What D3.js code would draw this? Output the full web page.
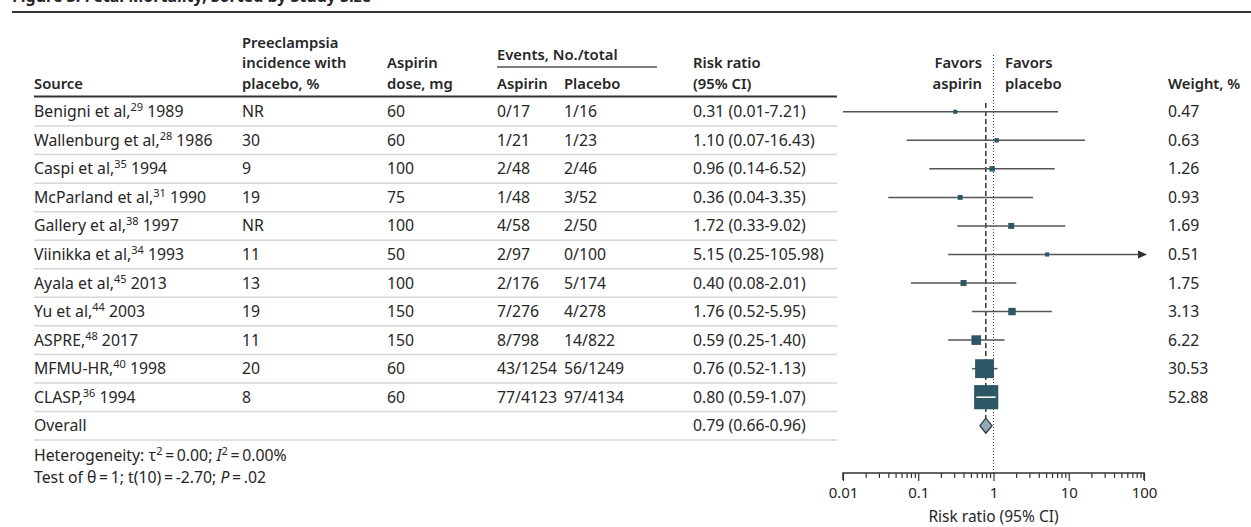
<!DOCTYPE html>
<html>
<head>
<meta charset="utf-8">
<script src="https://cdn.jsdelivr.net/npm/d3@7"></script>
<style>
  html, body { margin: 0; padding: 0; background: #fff; }
  svg { display: block; font-family: "Noto Sans", sans-serif; }
</style>
</head>
<body>
<svg id="chart" width="1251" height="527"></svg>
<script>
// Study table
const studyNames = ["Benigni et al,", "Wallenburg et al,", "Caspi et al,", "McParland et al,", "Gallery et al,",
  "Viinikka et al,", "Ayala et al,", "Yu et al,", "ASPRE,", "MFMU-HR,", "CLASP,"];
const studyRefs = ["29", "28", "35", "31", "38", "34", "45", "44", "48", "40", "36"];
const studyYears = ["1989", "1986", "1994", "1990", "1997", "1993", "2013", "2003", "2017", "1998", "1994"];
const incidence = ["NR", "30", "9", "19", "NR", "11", "13", "19", "11", "20", "8"];
const doseMg = [60, 60, 100, 75, 100, 50, 100, 150, 150, 60, 60];
const aspirinEvents = [0, 1, 2, 1, 4, 2, 2, 7, 8, 43, 77];
const aspirinTotal = [17, 21, 48, 48, 58, 97, 176, 276, 798, 1254, 4123];
const placeboEvents = [1, 1, 2, 3, 2, 0, 5, 4, 14, 56, 97];
const placeboTotal = [16, 23, 46, 52, 50, 100, 174, 278, 822, 1249, 4134];
const riskRatio = [0.31, 1.10, 0.96, 0.36, 1.72, 5.15, 0.40, 1.76, 0.59, 0.76, 0.80];
const ciLow = [0.01, 0.07, 0.14, 0.04, 0.33, 0.25, 0.08, 0.52, 0.25, 0.52, 0.59];
const ciHigh = [7.21, 16.43, 6.52, 3.35, 9.02, 105.98, 2.01, 5.95, 1.40, 1.13, 1.07];
const weightPct = [0.47, 0.63, 1.26, 0.93, 1.69, 0.51, 1.75, 3.13, 6.22, 30.53, 52.88];

// Pooled estimate
const overallRR = [0.79];
const overallLow = [0.66];
const overallHigh = [0.96];

// Axis ticks
const tickValues = [0.01, 0.1, 1, 10, 100];
const tickLabels = ["0.01", "0.1", "1", "10", "100"];

const svg = d3.select("#chart");
const ink = "#262626";
const boxColor = "#2e5766";
const fontSize = 15.8;
const headSize = 14.8;
const supSize = 11;

const nRows = studyNames.length + 1;
const y = d3.scaleBand().domain(d3.range(nRows)).range([97.5, 440]).padding(0);
const yc = i => y(i) + y.bandwidth() / 2;
const x = d3.scaleLog().domain([0.01, 100]).range([843, 1144]);
const boxSide = d3.scaleSqrt().domain([0, 100]).range([0, 30.5]);

const fmt2 = d3.format(".2f");
const rrText = (r, l, h) => `${fmt2(r)} (${fmt2(l)}-${fmt2(h)})`;

// Title strip and rules
svg.append("text").attr("x", 12).attr("y", 2).attr("font-size", 16).attr("font-weight", 700)
  .attr("fill", ink).text("Figure 3. Fetal Mortality, Sorted by Study Size");
svg.append("line").attr("x1", 12).attr("x2", 1251).attr("y1", 12).attr("y2", 12)
  .attr("stroke", "#333").attr("stroke-width", 2);

// Column headers
const col = { src: 34, inc: 242, dose: 387, asp: 497, plc: 564, rr: 693, wt: 1168 };
const header = svg.append("g").attr("font-size", headSize).attr("font-weight", 600).attr("fill", ink);
function headerLines(xp, lines, lastBaseline, anchor) {
  lines.forEach((t, k) => {
    header.append("text").attr("x", xp).attr("y", lastBaseline - (lines.length - 1 - k) * 20.7)
      .attr("text-anchor", anchor || "start").text(t);
  });
}
headerLines(col.src, ["Source"], 89);
headerLines(col.inc, ["Preeclampsia", "incidence with", "placebo, %"], 89);
headerLines(col.dose, ["Aspirin", "dose, mg"], 89);
headerLines(col.asp, ["Events, No./total"], 60);
headerLines(col.asp, ["Aspirin"], 89);
headerLines(col.plc, ["Placebo"], 89);
headerLines(col.rr, ["Risk ratio", "(95% CI)"], 89);
headerLines(col.wt, ["Weight, %"], 89);
headerLines(982, ["Favors", "aspirin"], 89, "end");
headerLines(1005, ["Favors", "placebo"], 89);
svg.append("line").attr("x1", col.asp).attr("x2", 657).attr("y1", 67).attr("y2", 67)
  .attr("stroke", "#555").attr("stroke-width", 1.5);
svg.append("line").attr("x1", 34).attr("x2", 837).attr("y1", 96.5).attr("y2", 96.5)
  .attr("stroke", "#333").attr("stroke-width", 2);

// Row separators
svg.append("g").selectAll("line").data(d3.range(nRows)).join("line")
  .attr("x1", 34).attr("x2", 837)
  .attr("y1", i => y(i) + y.bandwidth()).attr("y2", i => y(i) + y.bandwidth())
  .attr("stroke", "#d6d6d6").attr("stroke-width", 1.5);

// Table body
const body = svg.append("g").attr("font-size", fontSize).attr("fill", ink);
const rows = body.selectAll("g.row").data(d3.range(studyNames.length)).join("g")
  .attr("class", "row").attr("transform", i => `translate(0,${yc(i) + 5.5})`);
const src = rows.append("text").attr("x", col.src);
src.append("tspan").text(i => studyNames[i]);
src.append("tspan").attr("font-size", supSize).attr("dy", -6).text(i => studyRefs[i]);
src.append("tspan").attr("dy", 6).text(i => "\u00a0" + studyYears[i]);
rows.append("text").attr("x", col.inc).text(i => incidence[i]);
rows.append("text").attr("x", col.dose).text(i => doseMg[i]);
rows.append("text").attr("x", col.asp).text(i => `${aspirinEvents[i]}/${aspirinTotal[i]}`);
rows.append("text").attr("x", col.plc).text(i => `${placeboEvents[i]}/${placeboTotal[i]}`);
rows.append("text").attr("x", col.rr).text(i => rrText(riskRatio[i], ciLow[i], ciHigh[i]));
rows.append("text").attr("x", col.wt).text(i => fmt2(weightPct[i]));

const ov = studyNames.length;
body.append("text").attr("x", col.src).attr("y", yc(ov) + 5.5).text("Overall");
body.append("text").attr("x", col.rr).attr("y", yc(ov) + 5.5)
  .text(rrText(overallRR[0], overallLow[0], overallHigh[0]));

// Footnotes
const foot = svg.append("g").attr("font-size", fontSize).attr("fill", ink);
const het = foot.append("text").attr("x", col.src).attr("y", 461);
het.append("tspan").text("Heterogeneity: \u03c4");
het.append("tspan").attr("font-size", supSize).attr("dy", -6).text("2");
het.append("tspan").attr("dy", 6).text("\u2009=\u20090.00; ");
het.append("tspan").attr("font-style", "italic").text("I");
het.append("tspan").attr("font-size", supSize).attr("dy", -6).text("2");
het.append("tspan").attr("dy", 6).text("\u2009=\u20090.00%");
const tst = foot.append("text").attr("x", col.src).attr("y", 483);
tst.append("tspan").text("Test of \u03b8\u2009=\u20091; t(10)\u2009=\u2009-2.70; ");
tst.append("tspan").attr("font-style", "italic").text("P");
tst.append("tspan").text("\u2009=\u2009.02");

// Reference lines: no effect (dotted) and pooled estimate (dashed)
svg.append("line").attr("x1", x(1)).attr("x2", x(1)).attr("y1", 55).attr("y2", 473)
  .attr("stroke", "#444").attr("stroke-width", 1).attr("stroke-dasharray", "1,2");
svg.append("line").attr("x1", x(overallRR[0])).attr("x2", x(overallRR[0]))
  .attr("y1", 103).attr("y2", yc(ov) - 8)
  .attr("stroke", "#333").attr("stroke-width", 1.5).attr("stroke-dasharray", "5,3");

// Confidence intervals and weighted boxes
const [xMin, xMax] = x.domain();
const plot = svg.append("g");
const marks = plot.selectAll("g.mark").data(d3.range(studyNames.length)).join("g").attr("class", "mark");
marks.append("line")
  .attr("x1", i => x(Math.max(ciLow[i], xMin)))
  .attr("x2", i => ciHigh[i] > xMax ? x(xMax) - 6 : x(ciHigh[i]))
  .attr("y1", i => yc(i)).attr("y2", i => yc(i))
  .attr("stroke", "#555").attr("stroke-width", 1.5);
marks.filter(i => ciHigh[i] > xMax).append("path")
  .attr("d", i => {
    const tip = x(xMax) + 3, yy = yc(i);
    return `M${tip},${yy}L${tip - 9},${yy - 4}L${tip - 9},${yy + 4}Z`;
  })
  .attr("fill", "#333");
const side = i => 2 + boxSide(weightPct[i]);
marks.append("rect")
  .attr("x", i => x(riskRatio[i]) - side(i) / 2)
  .attr("y", i => yc(i) - side(i) / 2)
  .attr("width", side).attr("height", side)
  .attr("fill", boxColor);
// Interval drawn in white where it lies entirely inside its box
marks.filter(i => x(ciLow[i]) > x(riskRatio[i]) - side(i) / 2 && x(ciHigh[i]) < x(riskRatio[i]) + side(i) / 2)
  .append("line")
  .attr("x1", i => x(ciLow[i])).attr("x2", i => x(ciHigh[i]))
  .attr("y1", i => yc(i)).attr("y2", i => yc(i))
  .attr("stroke", "#fff").attr("stroke-width", 1.5);

// Pooled diamond
const dy = yc(ov);
plot.append("path")
  .attr("d", `M${x(overallLow[0])},${dy}L${x(overallRR[0])},${dy - 7.5}L${x(overallHigh[0])},${dy}L${x(overallRR[0])},${dy + 7.5}Z`)
  .attr("fill", "#8eabb6").attr("stroke", "#333").attr("stroke-width", 1.2);

// Log axis
const allTicks = x.ticks();
const axis = d3.axisBottom(x).tickValues(allTicks).tickSize(5)
  .tickFormat(v => { const k = tickValues.findIndex(t => Math.abs(t - v) < v * 1e-6); return k >= 0 ? tickLabels[k] : ""; });
const ax = svg.append("g").attr("transform", "translate(0,473)").call(axis);
ax.select(".domain").attr("d", `M${x(xMin)},7V0H${x(xMax)}V7`).attr("stroke", "#333").attr("stroke-width", 1.5);
ax.selectAll(".tick line").attr("stroke", "#333").attr("stroke-width", 1.2)
  .attr("y2", v => tickValues.some(t => Math.abs(t - v) < v * 1e-6) ? 8 : 5);
ax.selectAll(".tick text").attr("y", 25).attr("dy", 0)
  .attr("font-family", "Noto Sans, sans-serif").attr("font-size", 15).attr("fill", ink);
svg.append("text").attr("x", x(1)).attr("y", 522).attr("text-anchor", "middle")
  .attr("font-size", 15.5).attr("fill", ink).text("Risk ratio (95% CI)");
</script>
</body>
</html>
